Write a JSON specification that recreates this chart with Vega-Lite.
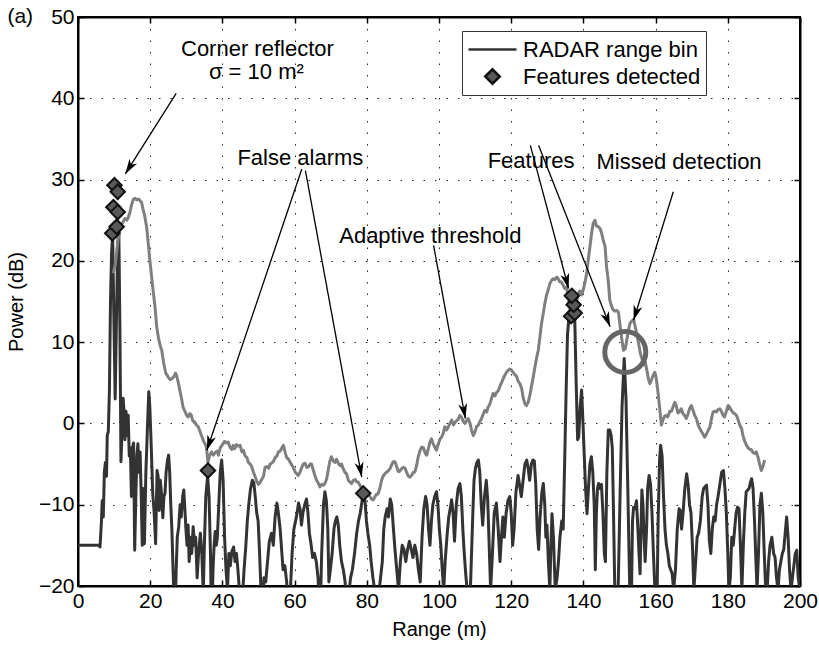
{
"$schema":"https://vega.github.io/schema/vega-lite/v6.json",
"width":722,"height":569,
"autosize":{"type":"none"},
"padding":{"left":78,"top":17,"right":19,"bottom":65},
"background":"#ffffff",
"config":{"view":{"stroke":"#000","strokeWidth":2},"font":"Liberation Sans"},
"datasets":{
"bin":[
{"range":0,"power":-15},{"range":5.8,"power":-15},{"range":6.1,"power":-15.2},{"range":6.5,"power":-12},{"range":6.7,"power":-9.5},{"range":7.0,"power":-11.5},{"range":7.3,"power":-6},{"range":7.6,"power":-4.8},{"range":7.9,"power":-6.5},{"range":8.1,"power":-1.5},{"range":8.4,"power":-1.0},{"range":8.7,"power":4},{"range":9.0,"power":15},{"range":9.3,"power":21},{"range":9.6,"power":23.2},{"range":9.9,"power":14},{"range":10.3,"power":3},{"range":10.7,"power":14},{"range":11.0,"power":22},{"range":11.3,"power":24},{"range":11.6,"power":12},{"range":11.9,"power":-4.7},{"range":12.2,"power":-1},{"range":12.5,"power":3.1},{"range":12.8,"power":1.2},{"range":13.0,"power":-2},{"range":13.3,"power":1.5},{"range":13.6,"power":-1.5},{"range":13.9,"power":1.0},{"range":14.2,"power":-4},{"range":14.5,"power":-3},{"range":14.8,"power":-9},{"range":15.1,"power":-3},{"range":15.4,"power":-2.4},{"range":15.7,"power":-15.6},{"range":16.0,"power":-9.5},{"range":16.3,"power":-4},{"range":16.6,"power":-2.5},{"range":16.9,"power":-6},{"range":17.2,"power":-3.5},{"range":17.5,"power":-8.6},{"range":17.8,"power":-15},{"range":18.1,"power":-8},{"range":18.4,"power":-14.8},{"range":18.8,"power":-6},{"range":19.2,"power":-1},{"range":19.6,"power":3.9},{"range":19.9,"power":2},{"range":20.3,"power":-3},{"range":20.7,"power":-8.6},{"range":21.1,"power":-11},{"range":21.5,"power":-14.8},{"range":21.9,"power":-5.8},{"range":22.2,"power":-6.5},{"range":22.5,"power":-10.7},{"range":22.8,"power":-7.0},{"range":23.2,"power":-9},{"range":23.5,"power":-11.6},{"range":23.8,"power":-9},{"range":24.1,"power":-8.6},{"range":24.4,"power":-6},{"range":24.8,"power":-4.5},{"range":25.1,"power":-3.9},{"range":25.4,"power":-6},{"range":25.7,"power":-10},{"range":26.0,"power":-13},{"range":26.4,"power":-18.9},{"range":26.8,"power":-25},{"range":27.2,"power":-18},{"range":27.5,"power":-14},{"range":27.9,"power":-12.7},{"range":28.3,"power":-10},{"range":28.6,"power":-11.5},{"range":29.0,"power":-9},{"range":29.3,"power":-8.2},{"range":29.6,"power":-10.5},{"range":29.9,"power":-13},{"range":30.2,"power":-15},{"range":30.5,"power":-12.5},{"range":30.8,"power":-17},{"range":31.1,"power":-14},{"range":31.5,"power":-16},{"range":31.9,"power":-12.7},{"range":32.3,"power":-15},{"range":32.6,"power":-14},{"range":33.0,"power":-19},{"range":33.4,"power":-16},{"range":33.9,"power":-13.5},{"range":34.3,"power":-16},{"range":34.7,"power":-21},{"range":35.0,"power":-15},{"range":35.4,"power":-9},{"range":35.9,"power":-6.5},{"range":36.3,"power":-9},{"range":36.7,"power":-16},{"range":37.0,"power":-25},{"range":37.4,"power":-18},{"range":37.7,"power":-15},{"range":38.0,"power":-13.3},{"range":38.3,"power":-15},{"range":38.6,"power":-14},{"range":39.0,"power":-10},{"range":39.4,"power":-6},{"range":39.8,"power":-4.5},{"range":40.2,"power":-7},{"range":40.6,"power":-14},{"range":41.0,"power":-18},{"range":41.4,"power":-20.5},{"range":41.8,"power":-16},{"range":42.2,"power":-17.5},{"range":42.6,"power":-15.8},{"range":43.1,"power":-15.2},{"range":43.5,"power":-17},{"range":43.9,"power":-16},{"range":44.3,"power":-18},{"range":44.7,"power":-20.5},{"range":45.1,"power":-25},{"range":45.6,"power":-21},{"range":46.0,"power":-18},{"range":46.5,"power":-15},{"range":46.9,"power":-12},{"range":47.3,"power":-10},{"range":47.8,"power":-8},{"range":48.3,"power":-7.0},{"range":48.7,"power":-7.3},{"range":49.1,"power":-9},{"range":49.5,"power":-11},{"range":49.9,"power":-12},{"range":50.3,"power":-16},{"range":50.6,"power":-19.5},{"range":51.0,"power":-25},{"range":51.5,"power":-19},{"range":52.0,"power":-19.5},{"range":52.5,"power":-17},{"range":53.0,"power":-14.5},{"range":53.6,"power":-13.5},{"range":54.1,"power":-15},{"range":54.6,"power":-11.5},{"range":55.1,"power":-9.8},{"range":55.5,"power":-11},{"range":56.0,"power":-13},{"range":56.4,"power":-15.5},{"range":56.8,"power":-18},{"range":57.3,"power":-17.5},{"range":57.8,"power":-19.5},{"range":58.3,"power":-25},{"range":58.8,"power":-21},{"range":59.3,"power":-16},{"range":59.8,"power":-13},{"range":60.5,"power":-11.5},{"range":61.1,"power":-9.8},{"range":61.5,"power":-10.5},{"range":61.9,"power":-12.5},{"range":62.3,"power":-11},{"range":62.8,"power":-10},{"range":63.3,"power":-9.3},{"range":63.7,"power":-11},{"range":64.1,"power":-13.5},{"range":64.6,"power":-15},{"range":65.0,"power":-16.5},{"range":65.5,"power":-16},{"range":66.0,"power":-17},{"range":66.5,"power":-19},{"range":67.0,"power":-25},{"range":67.5,"power":-16},{"range":68.0,"power":-10},{"range":68.4,"power":-8.4},{"range":68.8,"power":-9.5},{"range":69.2,"power":-13},{"range":69.5,"power":-19.5},{"range":69.9,"power":-18},{"range":70.4,"power":-16},{"range":70.9,"power":-13},{"range":71.3,"power":-12},{"range":71.7,"power":-11.5},{"range":72.1,"power":-12.5},{"range":72.5,"power":-15},{"range":73.0,"power":-17},{"range":73.5,"power":-18},{"range":74.0,"power":-19.5},{"range":74.5,"power":-25},{"range":75.0,"power":-21},{"range":75.5,"power":-19},{"range":76.0,"power":-18},{"range":76.6,"power":-16},{"range":77.2,"power":-13.5},{"range":77.7,"power":-12},{"range":78.2,"power":-11},{"range":78.7,"power":-9.5},{"range":79.1,"power":-8.5},{"range":79.5,"power":-9.5},{"range":79.9,"power":-12},{"range":80.3,"power":-13.5},{"range":80.8,"power":-15},{"range":81.2,"power":-17},{"range":81.7,"power":-19},{"range":82.2,"power":-20.5},{"range":82.7,"power":-25},{"range":83.3,"power":-21},{"range":83.8,"power":-19},{"range":84.3,"power":-17},{"range":84.7,"power":-13},{"range":85.1,"power":-11.5},{"range":85.6,"power":-10.5},{"range":86.0,"power":-11.5},{"range":86.5,"power":-9.3},{"range":86.9,"power":-10},{"range":87.3,"power":-12.5},{"range":87.8,"power":-15.5},{"range":88.3,"power":-18},{"range":88.8,"power":-20.5},{"range":89.3,"power":-17},{"range":89.8,"power":-15},{"range":90.3,"power":-15.5},{"range":90.8,"power":-17},{"range":91.3,"power":-15.5},{"range":91.8,"power":-14.5},{"range":92.3,"power":-15.5},{"range":92.8,"power":-16.5},{"range":93.3,"power":-15},{"range":93.8,"power":-16},{"range":94.3,"power":-18},{"range":94.8,"power":-19.5},{"range":95.3,"power":-14},{"range":95.8,"power":-10.5},{"range":96.3,"power":-9.0},{"range":96.7,"power":-10},{"range":97.1,"power":-13},{"range":97.5,"power":-15},{"range":97.9,"power":-12},{"range":98.3,"power":-10},{"range":98.8,"power":-9},{"range":99.3,"power":-8.4},{"range":99.7,"power":-10},{"range":100.1,"power":-13},{"range":100.5,"power":-15},{"range":100.9,"power":-18},{"range":101.3,"power":-20.5},{"range":101.7,"power":-17},{"range":102.2,"power":-14},{"range":102.7,"power":-11.5},{"range":103.1,"power":-10.5},{"range":103.5,"power":-9.4},{"range":103.9,"power":-11},{"range":104.3,"power":-14.5},{"range":104.8,"power":-10},{"range":105.3,"power":-8},{"range":105.8,"power":-7.4},{"range":106.2,"power":-9},{"range":106.6,"power":-13},{"range":107.0,"power":-16},{"range":107.4,"power":-18.5},{"range":107.8,"power":-20.5},{"range":108.3,"power":-25},{"range":108.8,"power":-19},{"range":109.3,"power":-12},{"range":109.7,"power":-7},{"range":110.1,"power":-5.5},{"range":110.5,"power":-4.8},{"range":110.9,"power":-4.5},{"range":111.3,"power":-6},{"range":111.7,"power":-10},{"range":112.1,"power":-12.5},{"range":112.6,"power":-9},{"range":113.1,"power":-7.0},{"range":113.5,"power":-9.5},{"range":113.9,"power":-15},{"range":114.3,"power":-20.5},{"range":114.8,"power":-16},{"range":115.3,"power":-11},{"range":115.9,"power":-9.8},{"range":116.4,"power":-13},{"range":116.9,"power":-17},{"range":117.3,"power":-14},{"range":117.7,"power":-11.5},{"range":118.1,"power":-14},{"range":118.6,"power":-11},{"range":119.1,"power":-9.5},{"range":119.6,"power":-9.0},{"range":120.0,"power":-11},{"range":120.4,"power":-15},{"range":120.8,"power":-13},{"range":121.3,"power":-8.5},{"range":121.9,"power":-6.4},{"range":122.3,"power":-7.5},{"range":122.8,"power":-9},{"range":123.3,"power":-7},{"range":123.8,"power":-5},{"range":124.3,"power":-4.5},{"range":124.7,"power":-5.5},{"range":125.1,"power":-7},{"range":125.6,"power":-5},{"range":126.0,"power":-4.5},{"range":126.4,"power":-4.6},{"range":126.8,"power":-7.5},{"range":127.2,"power":-13},{"range":127.6,"power":-15.5},{"range":128.0,"power":-11.5},{"range":128.5,"power":-8.5},{"range":128.9,"power":-7.4},{"range":129.3,"power":-10},{"range":129.6,"power":-14},{"range":129.9,"power":-12.5},{"range":130.3,"power":-17},{"range":130.7,"power":-20.5},{"range":131.0,"power":-15},{"range":131.3,"power":-11.1},{"range":131.7,"power":-14},{"range":132.2,"power":-20.5},{"range":132.7,"power":-19},{"range":133.1,"power":-17},{"range":133.5,"power":-14},{"range":134.0,"power":-12},{"range":134.4,"power":-13},{"range":134.8,"power":-5},{"range":135.2,"power":3.7},{"range":135.6,"power":11},{"range":136.0,"power":13},{"range":136.4,"power":14},{"range":136.9,"power":15.5},{"range":137.3,"power":14},{"range":137.6,"power":13},{"range":138.0,"power":5},{"range":138.4,"power":-2},{"range":138.7,"power":-1.7},{"range":139.1,"power":2},{"range":139.5,"power":4.1},{"range":139.8,"power":1},{"range":140.2,"power":-3.5},{"range":140.6,"power":-8},{"range":141.0,"power":-11.1},{"range":141.4,"power":-8},{"range":141.8,"power":-5},{"range":142.2,"power":-4.1},{"range":142.6,"power":-6},{"range":143.0,"power":-10},{"range":143.3,"power":-18},{"range":143.6,"power":-11},{"range":143.9,"power":-8},{"range":144.2,"power":-7.4},{"range":144.6,"power":-8},{"range":145.0,"power":-7.5},{"range":145.4,"power":-11},{"range":145.8,"power":-16},{"range":146.1,"power":-17},{"range":146.5,"power":-6},{"range":146.9,"power":-0.8},{"range":147.3,"power":-0.8},{"range":147.7,"power":-1.5},{"range":148.0,"power":-3},{"range":148.3,"power":-10},{"range":148.7,"power":-20.5},{"range":149.1,"power":-25},{"range":149.6,"power":-21},{"range":150.2,"power":-8},{"range":150.7,"power":2},{"range":151.3,"power":8.0},{"range":151.8,"power":3},{"range":152.3,"power":-8},{"range":152.8,"power":-19.5},{"range":153.2,"power":-25},{"range":153.6,"power":-12},{"range":153.9,"power":-10.3},{"range":154.3,"power":-10.5},{"range":154.7,"power":-9.5},{"range":155.1,"power":-13},{"range":155.4,"power":-16},{"range":155.7,"power":-18.5},{"range":156.0,"power":-12},{"range":156.2,"power":-8.2},{"range":156.5,"power":-10},{"range":156.8,"power":-14},{"range":157.1,"power":-17},{"range":157.5,"power":-13},{"range":157.8,"power":-8},{"range":158.2,"power":-6.4},{"range":158.6,"power":-7.5},{"range":159.0,"power":-11},{"range":159.4,"power":-16},{"range":159.8,"power":-20.5},{"range":160.3,"power":-25},{"range":160.7,"power":-12},{"range":161.1,"power":-4.5},{"range":161.4,"power":-2.7},{"range":161.8,"power":-4},{"range":162.2,"power":-9},{"range":162.6,"power":-13},{"range":163.0,"power":-15},{"range":163.4,"power":-16},{"range":163.8,"power":-17.5},{"range":164.2,"power":-18},{"range":164.6,"power":-18.5},{"range":165.0,"power":-20.5},{"range":165.5,"power":-18},{"range":166.0,"power":-13},{"range":166.5,"power":-10.5},{"range":166.8,"power":-10.7},{"range":167.2,"power":-13},{"range":167.6,"power":-11},{"range":168.1,"power":-8},{"range":168.6,"power":-6.2},{"range":169.0,"power":-7.5},{"range":169.4,"power":-10},{"range":169.8,"power":-11},{"range":170.2,"power":-15},{"range":170.6,"power":-20.5},{"range":171.1,"power":-17},{"range":171.5,"power":-14},{"range":171.9,"power":-13.5},{"range":172.4,"power":-12},{"range":172.9,"power":-9},{"range":173.3,"power":-8},{"range":173.7,"power":-7.8},{"range":174.1,"power":-7.6},{"range":174.5,"power":-10},{"range":174.9,"power":-14.5},{"range":175.3,"power":-16},{"range":175.7,"power":-13},{"range":176.1,"power":-11.5},{"range":176.5,"power":-12},{"range":176.9,"power":-10},{"range":177.3,"power":-9},{"range":177.8,"power":-7.5},{"range":178.3,"power":-6},{"range":178.8,"power":-5.8},{"range":179.2,"power":-8},{"range":179.6,"power":-11},{"range":180.0,"power":-16},{"range":180.3,"power":-20.5},{"range":180.7,"power":-19},{"range":181.1,"power":-14},{"range":181.5,"power":-15},{"range":181.9,"power":-13},{"range":182.3,"power":-11},{"range":182.7,"power":-10.3},{"range":183.1,"power":-10.5},{"range":183.5,"power":-15},{"range":183.9,"power":-20.5},{"range":184.3,"power":-15},{"range":184.7,"power":-11},{"range":185.1,"power":-8.4},{"range":185.5,"power":-8.2},{"range":185.9,"power":-8},{"range":186.3,"power":-7.2},{"range":186.6,"power":-6.8},{"range":187.0,"power":-8},{"range":187.4,"power":-12},{"range":187.8,"power":-17},{"range":188.1,"power":-20.5},{"range":188.5,"power":-16},{"range":188.9,"power":-10},{"range":189.3,"power":-8.6},{"range":189.7,"power":-11},{"range":190.1,"power":-16},{"range":190.5,"power":-20.5},{"range":190.9,"power":-20.5},{"range":191.3,"power":-17},{"range":191.7,"power":-15},{"range":192.2,"power":-14},{"range":192.7,"power":-16},{"range":193.1,"power":-16.5},{"range":193.5,"power":-19},{"range":193.9,"power":-20.5},{"range":194.3,"power":-18},{"range":194.7,"power":-17},{"range":195.1,"power":-16},{"range":195.5,"power":-15.5},{"range":196.0,"power":-13},{"range":196.3,"power":-11.5},{"range":196.7,"power":-14},{"range":197.1,"power":-18},{"range":197.5,"power":-20.5},{"range":197.9,"power":-19},{"range":198.3,"power":-17.5},{"range":198.7,"power":-16},{"range":199.1,"power":-15.6},{"range":199.5,"power":-19},{"range":200,"power":-20.5}
],
"thr":[
{"range":9.8,"power":18.5},{"range":10.3,"power":19.5},{"range":10.8,"power":21.5},{"range":11.2,"power":22.9},{"range":11.6,"power":23.8},{"range":12.0,"power":24.5},{"range":12.5,"power":24.8},{"range":13.0,"power":25.2},{"range":13.5,"power":25.0},{"range":13.9,"power":25.3},{"range":14.4,"power":26.0},{"range":14.9,"power":27.0},{"range":15.4,"power":27.6},{"range":15.8,"power":27.7},{"range":16.3,"power":27.5},{"range":16.8,"power":27.6},{"range":17.2,"power":27.4},{"range":17.6,"power":27.2},{"range":18.0,"power":26.4},{"range":18.5,"power":25.5},{"range":19.0,"power":24.2},{"range":19.5,"power":22.0},{"range":19.9,"power":20.1},{"range":20.4,"power":18},{"range":20.9,"power":16},{"range":21.3,"power":14.5},{"range":21.8,"power":11.9},{"range":22.3,"power":10.5},{"range":22.8,"power":9.5},{"range":23.2,"power":9.0},{"range":23.7,"power":7.5},{"range":24.3,"power":6.2},{"range":25.0,"power":5.7},{"range":25.5,"power":5.4},{"range":26.0,"power":5.5},{"range":26.6,"power":5.8},{"range":27.0,"power":6.2},{"range":27.3,"power":5.9},{"range":27.8,"power":5.0},{"range":28.2,"power":4.1},{"range":28.7,"power":3.0},{"range":29.1,"power":2.0},{"range":29.6,"power":1.5},{"range":30.1,"power":1.0},{"range":30.5,"power":0.8},{"range":31.0,"power":1.2},{"range":31.4,"power":1.0},{"range":31.8,"power":0.3},{"range":32.3,"power":0.2},{"range":32.8,"power":-0.2},{"range":33.3,"power":-0.4},{"range":33.8,"power":-1.0},{"range":34.3,"power":-1.6},{"range":34.8,"power":-2.2},{"range":35.2,"power":-2.5},{"range":35.6,"power":-3.0},{"range":36.0,"power":-4.8},{"range":36.4,"power":-4.0},{"range":37.0,"power":-3.5},{"range":37.5,"power":-3.9},{"range":38.0,"power":-3.6},{"range":38.5,"power":-3.4},{"range":38.9,"power":-3.9},{"range":39.4,"power":-3.0},{"range":40.0,"power":-2.6},{"range":40.6,"power":-2.2},{"range":41.1,"power":-2.4},{"range":41.6,"power":-2.3},{"range":42.1,"power":-2.9},{"range":42.6,"power":-3.2},{"range":43.0,"power":-2.7},{"range":43.4,"power":-3.1},{"range":43.9,"power":-2.6},{"range":44.4,"power":-2.8},{"range":44.9,"power":-2.7},{"range":45.4,"power":-3.5},{"range":45.8,"power":-3.3},{"range":46.3,"power":-4.0},{"range":46.8,"power":-4.2},{"range":47.2,"power":-4.8},{"range":47.7,"power":-5.0},{"range":48.1,"power":-5.3},{"range":48.6,"power":-6.0},{"range":49.1,"power":-6.6},{"range":49.6,"power":-7.2},{"range":50.0,"power":-7.5},{"range":50.5,"power":-7.2},{"range":51.0,"power":-6.8},{"range":51.4,"power":-6.5},{"range":51.8,"power":-5.4},{"range":52.3,"power":-5.3},{"range":52.8,"power":-5.5},{"range":53.2,"power":-5.0},{"range":53.6,"power":-4.9},{"range":54.1,"power":-4.7},{"range":54.6,"power":-4.2},{"range":55.1,"power":-4.0},{"range":55.5,"power":-3.5},{"range":56.0,"power":-3.4},{"range":56.5,"power":-3.0},{"range":56.9,"power":-2.7},{"range":57.4,"power":-3.6},{"range":57.8,"power":-4.2},{"range":58.3,"power":-4.4},{"range":58.8,"power":-4.8},{"range":59.2,"power":-5.1},{"range":59.7,"power":-5.5},{"range":60.2,"power":-6.0},{"range":60.6,"power":-6.2},{"range":61.0,"power":-6.4},{"range":61.5,"power":-6.0},{"range":61.9,"power":-5.5},{"range":62.4,"power":-5.0},{"range":62.9,"power":-4.9},{"range":63.4,"power":-5.4},{"range":63.9,"power":-5.3},{"range":64.3,"power":-5.0},{"range":64.7,"power":-5.0},{"range":65.2,"power":-5.8},{"range":65.7,"power":-6.5},{"range":66.1,"power":-7.0},{"range":66.6,"power":-7.4},{"range":67.0,"power":-7.8},{"range":67.5,"power":-7.5},{"range":68.0,"power":-7.6},{"range":68.4,"power":-7.4},{"range":68.9,"power":-6.8},{"range":69.4,"power":-5.5},{"range":69.8,"power":-4.6},{"range":70.2,"power":-4.1},{"range":70.7,"power":-4.6},{"range":71.2,"power":-4.8},{"range":71.6,"power":-4.4},{"range":72.1,"power":-4.9},{"range":72.6,"power":-5.2},{"range":73.0,"power":-5.0},{"range":73.5,"power":-5.6},{"range":73.9,"power":-6.0},{"range":74.4,"power":-6.2},{"range":74.9,"power":-7.0},{"range":75.3,"power":-7.2},{"range":75.8,"power":-7.4},{"range":76.3,"power":-7.0},{"range":76.8,"power":-6.9},{"range":77.2,"power":-7.2},{"range":77.6,"power":-7.2},{"range":78.1,"power":-7.6},{"range":78.6,"power":-8.0},{"range":79.0,"power":-8.3},{"range":79.5,"power":-8.2},{"range":79.9,"power":-8.4},{"range":80.4,"power":-8.8},{"range":80.9,"power":-9.0},{"range":81.3,"power":-9.3},{"range":81.8,"power":-9.4},{"range":82.3,"power":-9.0},{"range":82.7,"power":-8.7},{"range":83.1,"power":-8.7},{"range":83.6,"power":-8.0},{"range":84.1,"power":-7.0},{"range":84.5,"power":-6.5},{"range":85.0,"power":-6.2},{"range":85.5,"power":-6.0},{"range":86.0,"power":-5.8},{"range":86.4,"power":-5.6},{"range":86.8,"power":-5.2},{"range":87.3,"power":-4.7},{"range":87.8,"power":-4.7},{"range":88.2,"power":-5.2},{"range":88.7,"power":-5.9},{"range":89.1,"power":-5.9},{"range":89.6,"power":-5.6},{"range":90.1,"power":-5.4},{"range":90.6,"power":-5.5},{"range":91.0,"power":-6.0},{"range":91.5,"power":-6.5},{"range":91.9,"power":-6.6},{"range":92.4,"power":-6.4},{"range":92.9,"power":-6.0},{"range":93.3,"power":-6.0},{"range":93.8,"power":-5.2},{"range":94.2,"power":-4.2},{"range":94.7,"power":-3.4},{"range":95.2,"power":-2.9},{"range":95.7,"power":-3.0},{"range":96.2,"power":-3.7},{"range":96.6,"power":-3.9},{"range":97.1,"power":-3.0},{"range":97.5,"power":-2.3},{"range":97.9,"power":-1.9},{"range":98.4,"power":-2.5},{"range":98.9,"power":-3.0},{"range":99.3,"power":-3.3},{"range":99.8,"power":-2.5},{"range":100.3,"power":-1.9},{"range":100.7,"power":-1.7},{"range":101.2,"power":-1.2},{"range":101.6,"power":-0.4},{"range":102.1,"power":-0.8},{"range":102.5,"power":-0.5},{"range":103.0,"power":0.0},{"range":103.5,"power":0.4},{"range":104.0,"power":-0.2},{"range":104.4,"power":0.1},{"range":104.8,"power":0.3},{"range":105.3,"power":0.5},{"range":105.8,"power":1.0},{"range":106.3,"power":0.7},{"range":106.8,"power":0.2},{"range":107.2,"power":0.0},{"range":107.7,"power":0.4},{"range":108.1,"power":0.6},{"range":108.6,"power":0.0},{"range":109.0,"power":-0.8},{"range":109.5,"power":-1.5},{"range":110.0,"power":-1.0},{"range":110.4,"power":-0.4},{"range":110.9,"power":-0.2},{"range":111.3,"power":0.2},{"range":111.8,"power":0.6},{"range":112.2,"power":1.1},{"range":112.7,"power":1.6},{"range":113.2,"power":1.4},{"range":113.6,"power":2.0},{"range":114.1,"power":2.4},{"range":114.5,"power":3.0},{"range":115.0,"power":3.7},{"range":115.5,"power":3.4},{"range":115.9,"power":3.8},{"range":116.4,"power":4.0},{"range":116.9,"power":4.6},{"range":117.3,"power":5.0},{"range":117.8,"power":5.5},{"range":118.2,"power":5.9},{"range":118.7,"power":6.3},{"range":119.1,"power":6.5},{"range":119.6,"power":6.7},{"range":120.0,"power":6.6},{"range":120.5,"power":6.3},{"range":121.0,"power":6.0},{"range":121.5,"power":5.8},{"range":121.9,"power":5.2},{"range":122.4,"power":4.9},{"range":122.9,"power":4.3},{"range":123.3,"power":3.2},{"range":123.8,"power":2.4},{"range":124.2,"power":2.2},{"range":124.7,"power":2.6},{"range":125.2,"power":3.5},{"range":125.6,"power":4.5},{"range":126.1,"power":5.7},{"range":126.6,"power":7.0},{"range":127.0,"power":8.0},{"range":127.5,"power":9.0},{"range":128.0,"power":10.8},{"range":128.4,"power":12.3},{"range":128.9,"power":13.6},{"range":129.3,"power":14.7},{"range":129.8,"power":15.8},{"range":130.3,"power":16.5},{"range":130.7,"power":17.2},{"range":131.2,"power":17.6},{"range":131.6,"power":17.8},{"range":132.1,"power":17.7},{"range":132.6,"power":18.0},{"range":133.0,"power":17.8},{"range":133.5,"power":17.4},{"range":133.9,"power":17.4},{"range":134.4,"power":17.0},{"range":134.8,"power":16.6},{"range":135.3,"power":16.8},{"range":135.8,"power":15.5},{"range":136.2,"power":14.3},{"range":136.7,"power":13.5},{"range":137.1,"power":12.8},{"range":137.6,"power":13.0},{"range":138.1,"power":15.0},{"range":138.6,"power":16.0},{"range":139.0,"power":16.3},{"range":139.5,"power":15.8},{"range":140.0,"power":16.5},{"range":140.4,"power":17.3},{"range":140.9,"power":18.4},{"range":141.3,"power":20.0},{"range":141.8,"power":21.7},{"range":142.3,"power":23.5},{"range":142.7,"power":24.6},{"range":143.2,"power":25.0},{"range":143.6,"power":24.3},{"range":144.1,"power":24.2},{"range":144.6,"power":24.0},{"range":145.0,"power":23.5},{"range":145.5,"power":22.5},{"range":146.0,"power":21.8},{"range":146.4,"power":19.3},{"range":146.9,"power":17.5},{"range":147.3,"power":15.2},{"range":147.8,"power":14.4},{"range":148.2,"power":14.0},{"range":148.7,"power":13.8},{"range":149.2,"power":13.9},{"range":149.7,"power":13.7},{"range":150.2,"power":11.9},{"range":150.6,"power":10.5},{"range":151.1,"power":9.0},{"range":151.6,"power":9.2},{"range":152.0,"power":10.2},{"range":152.5,"power":11.5},{"range":152.9,"power":12.3},{"range":153.4,"power":12.6},{"range":153.9,"power":12.8},{"range":154.3,"power":12.0},{"range":154.8,"power":11.0},{"range":155.3,"power":9.8},{"range":155.8,"power":8.6},{"range":156.2,"power":8.0},{"range":156.7,"power":7.2},{"range":157.1,"power":7.6},{"range":157.6,"power":6.5},{"range":158.0,"power":5.5},{"range":158.4,"power":4.9},{"range":158.9,"power":5.4},{"range":159.4,"power":6.0},{"range":159.8,"power":6.3},{"range":160.2,"power":5.5},{"range":160.7,"power":3.7},{"range":161.1,"power":2.0},{"range":161.6,"power":-0.2},{"range":162.1,"power":0.5},{"range":162.5,"power":0.9},{"range":163.0,"power":1.0},{"range":163.4,"power":0.8},{"range":163.9,"power":1.5},{"range":164.4,"power":1.5},{"range":164.8,"power":2.0},{"range":165.3,"power":2.6},{"range":165.7,"power":2.2},{"range":166.2,"power":1.3},{"range":166.6,"power":1.4},{"range":167.1,"power":1.8},{"range":167.6,"power":1.2},{"range":168.0,"power":1.0},{"range":168.5,"power":0.6},{"range":169.0,"power":1.2},{"range":169.4,"power":1.8},{"range":169.9,"power":2.2},{"range":170.4,"power":1.6},{"range":170.8,"power":1.0},{"range":171.3,"power":0.6},{"range":171.8,"power":-0.2},{"range":172.2,"power":-0.6},{"range":172.7,"power":-1.0},{"range":173.1,"power":-1.3},{"range":173.6,"power":-1.7},{"range":174.1,"power":-1.3},{"range":174.5,"power":-0.9},{"range":175.0,"power":-0.5},{"range":175.4,"power":0.4},{"range":175.9,"power":1.4},{"range":176.4,"power":1.5},{"range":176.8,"power":1.4},{"range":177.3,"power":1.7},{"range":177.8,"power":1.8},{"range":178.2,"power":1.5},{"range":178.7,"power":1.0},{"range":179.1,"power":0.8},{"range":179.6,"power":1.5},{"range":180.1,"power":2.2},{"range":180.5,"power":2.0},{"range":181.0,"power":1.6},{"range":181.5,"power":1.3},{"range":181.9,"power":1.2},{"range":182.4,"power":1.0},{"range":182.8,"power":0.5},{"range":183.3,"power":-0.2},{"range":183.8,"power":-0.6},{"range":184.2,"power":-1.5},{"range":184.7,"power":-2.2},{"range":185.2,"power":-2.7},{"range":185.6,"power":-3.0},{"range":186.1,"power":-3.2},{"range":186.5,"power":-3.2},{"range":187.0,"power":-3.6},{"range":187.5,"power":-3.7},{"range":187.9,"power":-3.5},{"range":188.4,"power":-4.2},{"range":188.8,"power":-5.0},{"range":189.3,"power":-5.8},{"range":189.8,"power":-5.2},{"range":190.2,"power":-4.5}
],
"det":[
{"range":9.5,"power":23.4,"series":"Features detected"},{"range":10.7,"power":24.2,"series":"Features detected"},{"range":9.8,"power":26.6,"series":"Features detected"},{"range":11.0,"power":26.0,"series":"Features detected"},{"range":10.1,"power":29.3,"series":"Features detected"},{"range":11.0,"power":28.5,"series":"Features detected"},{"range":36.0,"power":-5.8,"series":"Features detected"},{"range":79.0,"power":-8.6,"series":"Features detected"},{"range":136.6,"power":13.2,"series":"Features detected"},{"range":137.6,"power":13.6,"series":"Features detected"},{"range":137.3,"power":14.6,"series":"Features detected"},{"range":136.8,"power":15.7,"series":"Features detected"}
],
"arrows":[
{"x1":27.2,"y1":40.6,"x2":13.1,"y2":30.7},
{"x1":62.0,"y1":31.3,"x2":35.7,"y2":-3.3},
{"x1":63.0,"y1":31.1,"x2":78.6,"y2":-6.6},
{"x1":98.5,"y1":21.9,"x2":107.3,"y2":0.6},
{"x1":125.3,"y1":34.2,"x2":135.9,"y2":16.6},
{"x1":127.6,"y1":34.2,"x2":147.4,"y2":11.9},
{"x1":164.9,"y1":28.5,"x2":153.9,"y2":12.7}
],
"notes":[
{"label":"Corner reflector","range":49.7,"power":46.1},
{"label":"σ = 10 m²","range":49.4,"power":43.2},
{"label":"False alarms","range":61.6,"power":32.7},
{"label":"Adaptive threshold","range":97.6,"power":23.1},
{"label":"Features","range":125.5,"power":32.3},
{"label":"Missed detection","range":166.5,"power":32.2}
]
},
"resolve":{"axis":{"x":"independent","y":"independent"}},
"layer":[
{"data":{"name":"bin"},
 "mark":{"type":"line","color":"#333333","strokeWidth":3,"clip":true,"strokeJoin":"round"},
 "encoding":{
  "x":{"field":"range","type":"quantitative","scale":{"domain":[0,200],"nice":false,"zero":false},
   "axis":{"orient":"bottom","values":[0,20,40,60,80,100,120,140,160,180,200],"grid":true,"gridDash":[1.5,10],"gridColor":"#000","gridOpacity":0.85,"tickSize":-6,"tickColor":"#000","tickWidth":1.5,"domainColor":"#000","domainWidth":2,"labelFontSize":21,"labelFont":"Liberation Sans","labelColor":"#000","labelPadding":10,"labelFlush":false,"labelOverlap":false,"title":"Range (m)","titleFontSize":20,"titleFont":"Liberation Sans","titleFontWeight":"normal","titleColor":"#000","titlePadding":8}},
  "y":{"field":"power","type":"quantitative","scale":{"domain":[-20,50],"nice":false,"zero":false},
   "axis":{"orient":"left","values":[-20,-10,0,10,20,30,40,50],"grid":true,"gridDash":[1.5,10],"gridColor":"#000","gridOpacity":0.85,"tickSize":-6,"tickColor":"#000","tickWidth":1.5,"domainColor":"#000","domainWidth":2,"labelFontSize":21,"labelFont":"Liberation Sans","labelColor":"#000","labelPadding":10,"labelFlush":false,"labelOverlap":false,"title":"Power (dB)","titleFontSize":20,"titleFont":"Liberation Sans","titleFontWeight":"normal","titleColor":"#000","titlePadding":12}}
 }},
{"data":{"name":"thr"},
 "mark":{"type":"line","color":"#7f7f7f","strokeWidth":3,"clip":true,"strokeJoin":"round"},
 "encoding":{
  "x":{"field":"range","type":"quantitative","axis":{"orient":"top","values":[0,20,40,60,80,100,120,140,160,180,200],"grid":false,"labels":false,"title":null,"tickSize":-6,"tickColor":"#000","tickWidth":1.5,"domainColor":"#000","domainWidth":2}},
  "y":{"field":"power","type":"quantitative","axis":{"orient":"right","values":[-20,-10,0,10,20,30,40,50],"grid":false,"labels":false,"title":null,"tickSize":-6,"tickColor":"#000","tickWidth":1.5,"domainColor":"#000","domainWidth":2}}
 }},
{"data":{"name":"det"},
 "mark":{"type":"point","filled":true,"strokeWidth":2,"opacity":1},
 "encoding":{
  "x":{"field":"range","type":"quantitative","axis":null},
  "y":{"field":"power","type":"quantitative","axis":null},
  "shape":{"field":"series","type":"nominal","scale":{"domain":["RADAR range bin","Features detected"],"range":["stroke","diamond"]},
   "legend":{"title":null,"orient":"none","legendX":384,"legendY":14,"padding":5,"strokeColor":"#333","fillColor":"#fff","labelFontSize":22,"labelFont":"Liberation Sans","labelColor":"#000","labelOffset":5,"symbolOffset":0,"symbolStrokeWidth":2.5,"clipHeight":27,"rowPadding":0,"labelLimit":400}},
  "size":{"field":"series","type":"nominal","scale":{"domain":["RADAR range bin","Features detected"],"range":[2304,210]}},
  "fill":{"field":"series","type":"nominal","scale":{"domain":["RADAR range bin","Features detected"],"range":["#333333","#595959"]}},
  "stroke":{"field":"series","type":"nominal","scale":{"domain":["RADAR range bin","Features detected"],"range":["#333333","#111111"]}}
 }},
{"data":{"values":[{"range":151.6,"power":8.8}]},
 "mark":{"type":"point","shape":"circle","filled":false,"size":1681,"stroke":"#666666","strokeWidth":5,"opacity":1},
 "encoding":{"x":{"field":"range","type":"quantitative","axis":null},"y":{"field":"power","type":"quantitative","axis":null}}},
{"data":{"name":"arrows"},
 "mark":{"type":"rule","color":"#000","strokeWidth":1.3},
 "encoding":{"x":{"field":"x1","type":"quantitative","axis":null},"y":{"field":"y1","type":"quantitative","axis":null},"x2":{"field":"x2"},"y2":{"field":"y2"}}},
{"data":{"name":"arrows"},
 "transform":[{"calculate":"atan2((datum.x2-datum.x1)*722/200,(datum.y2-datum.y1)*569/70)*180/PI","as":"angle"}],
 "mark":{"type":"point","shape":"M0,0L-0.3,1L0,0.72L0.3,1Z","filled":true,"size":900,"color":"#000","opacity":1,"strokeWidth":0},
 "encoding":{"x":{"field":"x2","type":"quantitative","axis":null},"y":{"field":"y2","type":"quantitative","axis":null},"angle":{"field":"angle","type":"quantitative","scale":null}}},
{"data":{"name":"notes"},
 "mark":{"type":"text","font":"Liberation Sans","fontSize":22,"color":"#000","align":"center","baseline":"middle"},
 "encoding":{"x":{"field":"range","type":"quantitative","axis":null},"y":{"field":"power","type":"quantitative","axis":null},"text":{"field":"label"}}},
{"data":{"values":[{"label":"(a)","range":-16,"power":50}]},
 "mark":{"type":"text","font":"Liberation Sans","fontSize":21,"color":"#000","align":"center","baseline":"middle","clip":false},
 "encoding":{"x":{"field":"range","type":"quantitative","axis":null},"y":{"field":"power","type":"quantitative","axis":null},"text":{"field":"label"}}}
]
}
